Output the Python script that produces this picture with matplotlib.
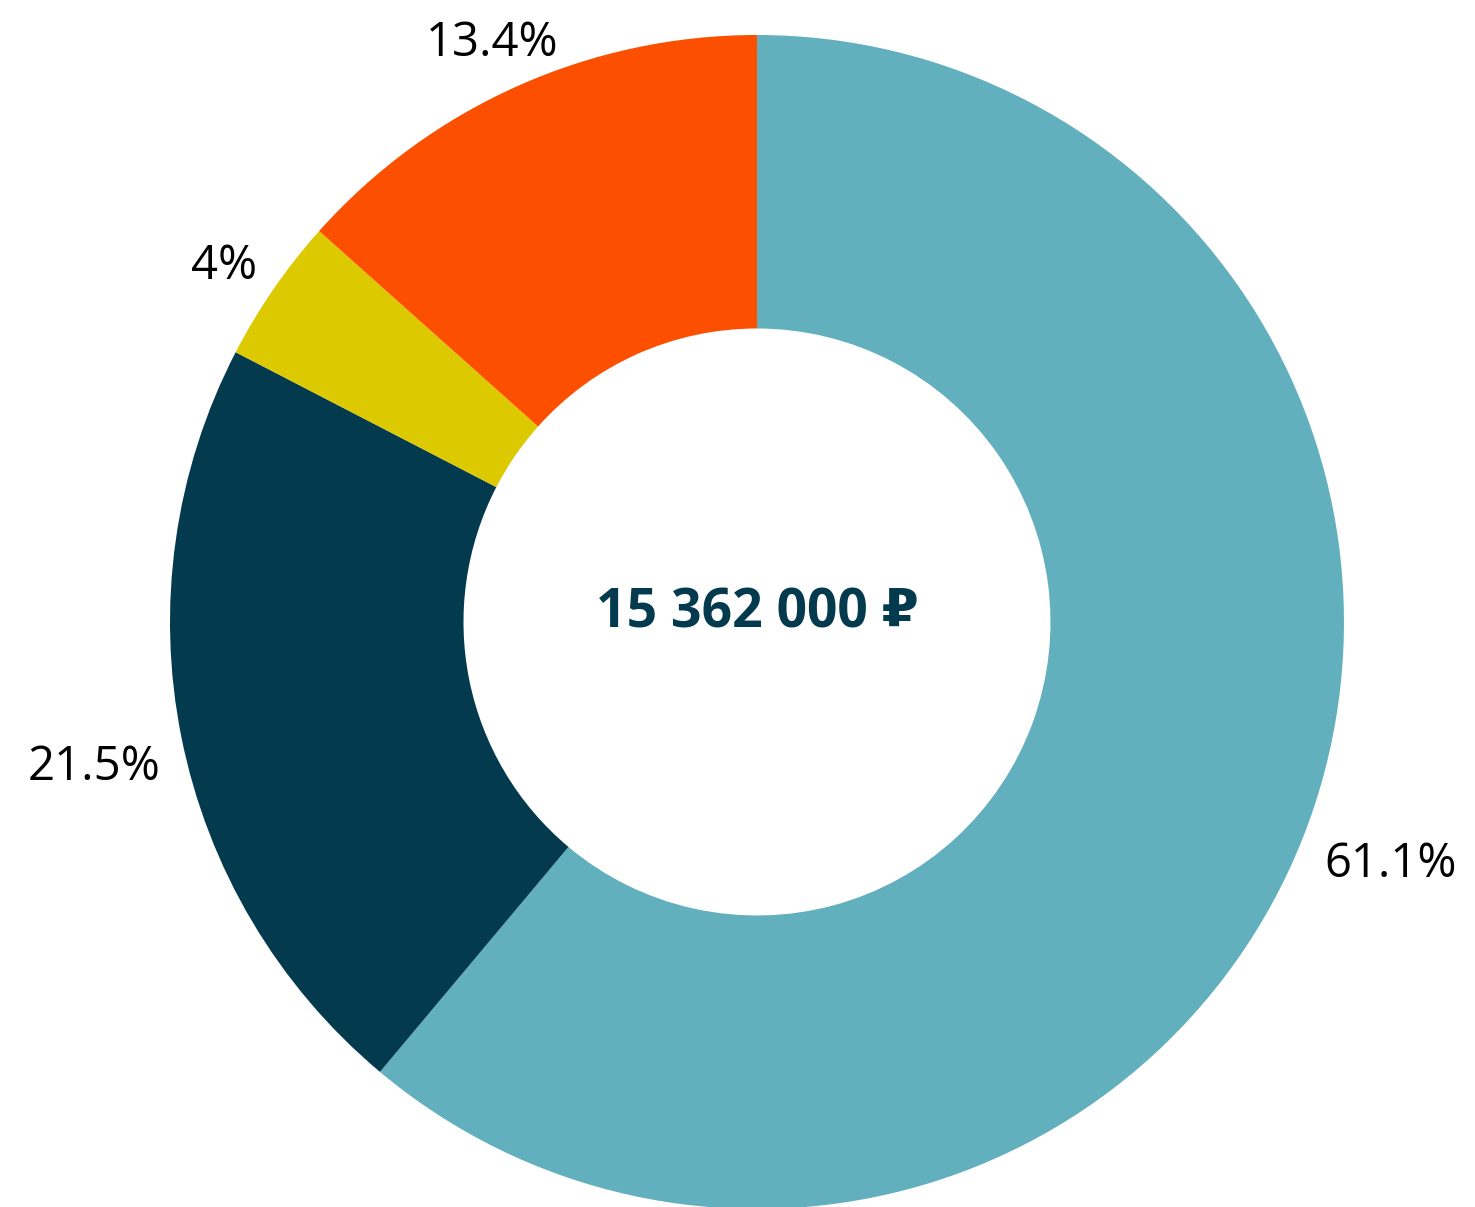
import numpy as np
import matplotlib.pyplot as plt

plt.rcParams['font.family'] = ['Open Sans', 'DejaVu Sans']

# доли (в процентах), по часовой стрелке от верха
shares = [61.1, 21.5, 4, 13.4]
labels = ['61.1%', '21.5%', '4%', '13.4%']
colors = ['#62afbd', '#033a4d', '#ddc900', '#fc5000']
total_text = '15 362 000 ₽'

fig = plt.figure(figsize=(14.75, 12.07), dpi=100)
ax = fig.add_axes([0, 0, 1, 1])

wedges, _ = ax.pie(shares, colors=colors, startangle=90, counterclock=False,
                   radius=1, wedgeprops=dict(width=0.5, linewidth=0))

ax.set_xlim(-1.2896, 1.2232)
ax.set_ylim(-0.9966, 1.0596)
ax.set_aspect('equal')
ax.axis('off')

# подписи снаружи кольца, отступ от края с учётом ширины текста
texts = []
for w, lab in zip(wedges, labels):
    t = ax.text(0, 0, lab, fontsize=34, ha='center', va='center', color='black')
    texts.append(t)

fig.canvas.draw()
r = fig.canvas.get_renderer()
px = 587.0  # пикселей на единицу радиуса
for w, t in zip(wedges, texts):
    ang = np.deg2rad((w.theta1 + w.theta2) / 2)
    half_w = t.get_window_extent(r).width / 2 / px
    dist = 1.0 + 40 / px + abs(np.cos(ang)) * half_w * 0.75
    t.set_position((dist * np.cos(ang), dist * np.sin(ang) - 12 / px))

ax.text(0, 0.015, total_text, fontsize=38.5, fontweight='bold',
        ha='center', va='center', color='#033a4d')

fig.savefig('out.png', dpi=100)
